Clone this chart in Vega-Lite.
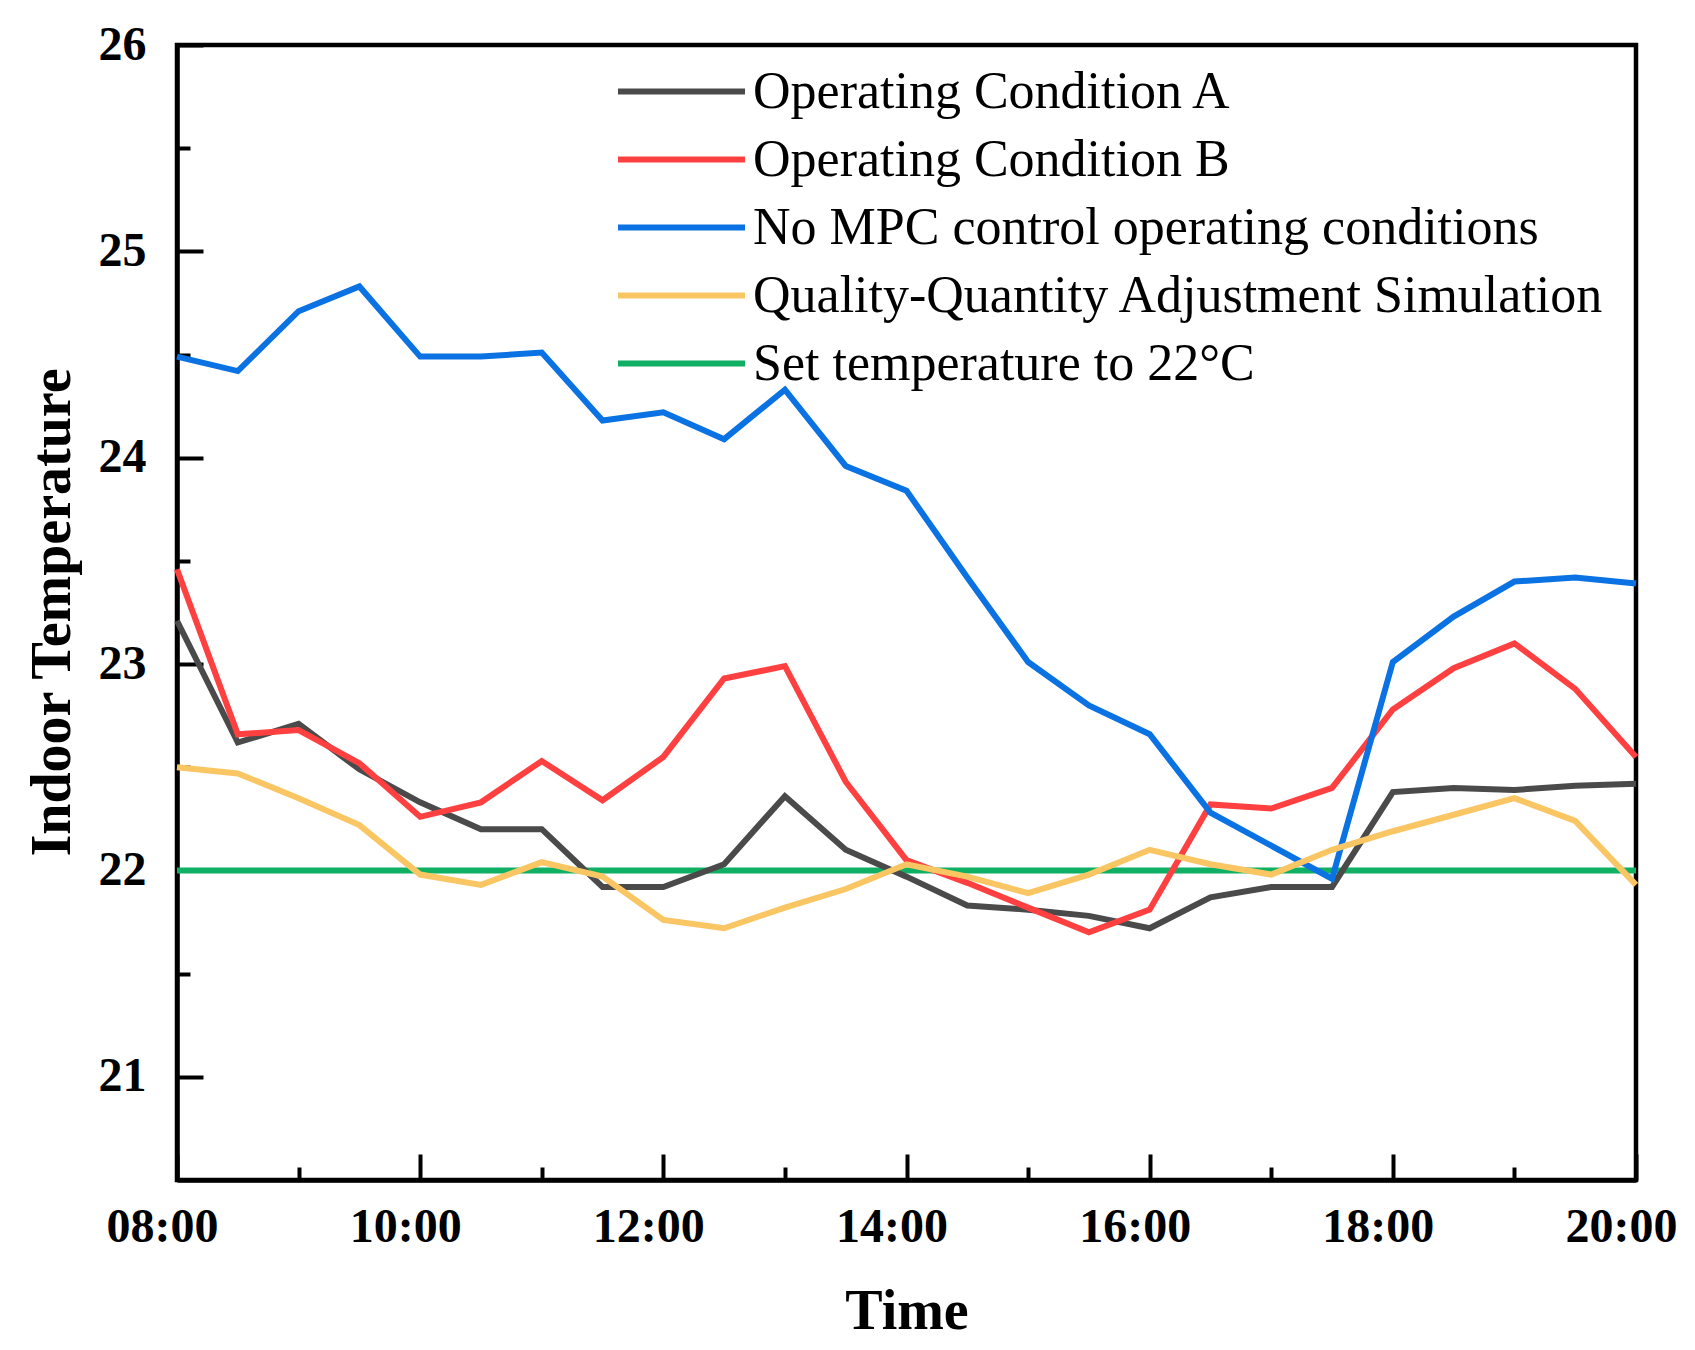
{
  "$schema": "https://vega.github.io/schema/vega-lite/v6.json",
  "width": 1459,
  "height": 1135,
  "autosize": "none",
  "padding": {"left": 177, "top": 45, "right": 59, "bottom": 170},
  "background": "white",
  "data": {
    "values": [
      {"t": 8, "A": 23.21, "B": 23.46, "N": 24.49, "Q": 22.50, "S": 22},
      {"t": 8.5, "A": 22.62, "B": 22.66, "N": 24.42, "Q": 22.47, "S": 22},
      {"t": 9, "A": 22.71, "B": 22.68, "N": 24.71, "Q": 22.35, "S": 22},
      {"t": 9.5, "A": 22.49, "B": 22.52, "N": 24.83, "Q": 22.22, "S": 22},
      {"t": 10, "A": 22.33, "B": 22.26, "N": 24.49, "Q": 21.98, "S": 22},
      {"t": 10.5, "A": 22.20, "B": 22.33, "N": 24.49, "Q": 21.93, "S": 22},
      {"t": 11, "A": 22.20, "B": 22.53, "N": 24.51, "Q": 22.04, "S": 22},
      {"t": 11.5, "A": 21.92, "B": 22.34, "N": 24.18, "Q": 21.97, "S": 22},
      {"t": 12, "A": 21.92, "B": 22.55, "N": 24.22, "Q": 21.76, "S": 22},
      {"t": 12.5, "A": 22.03, "B": 22.93, "N": 24.09, "Q": 21.72, "S": 22},
      {"t": 13, "A": 22.36, "B": 22.99, "N": 24.33, "Q": 21.82, "S": 22},
      {"t": 13.5, "A": 22.10, "B": 22.43, "N": 23.96, "Q": 21.91, "S": 22},
      {"t": 14, "A": 21.97, "B": 22.05, "N": 23.84, "Q": 22.03, "S": 22},
      {"t": 14.5, "A": 21.83, "B": 21.94, "N": 23.42, "Q": 21.97, "S": 22},
      {"t": 15, "A": 21.81, "B": 21.82, "N": 23.01, "Q": 21.89, "S": 22},
      {"t": 15.5, "A": 21.78, "B": 21.70, "N": 22.80, "Q": 21.98, "S": 22},
      {"t": 16, "A": 21.72, "B": 21.81, "N": 22.66, "Q": 22.10, "S": 22},
      {"t": 16.5, "A": 21.87, "B": 22.32, "N": 22.28, "Q": 22.03, "S": 22},
      {"t": 17, "A": 21.92, "B": 22.30, "N": 22.12, "Q": 21.98, "S": 22},
      {"t": 17.5, "A": 21.92, "B": 22.40, "N": 21.96, "Q": 22.10, "S": 22},
      {"t": 18, "A": 22.38, "B": 22.78, "N": 23.01, "Q": 22.19, "S": 22},
      {"t": 18.5, "A": 22.40, "B": 22.98, "N": 23.23, "Q": 22.27, "S": 22},
      {"t": 19, "A": 22.39, "B": 23.10, "N": 23.40, "Q": 22.35, "S": 22},
      {"t": 19.5, "A": 22.41, "B": 22.88, "N": 23.42, "Q": 22.24, "S": 22},
      {"t": 20, "A": 22.42, "B": 22.55, "N": 23.39, "Q": 21.93, "S": 22}
    ]
  },
  "transform": [
    {"fold": ["S", "A", "B", "N", "Q"], "as": ["series", "temp"]}
  ],
  "layer": [
    {
      "mark": {"type": "line", "strokeWidth": 6, "strokeJoin": "miter"},
      "encoding": {
        "x": {
          "field": "t",
          "type": "quantitative",
          "scale": {"domain": [8, 20], "nice": false, "zero": false},
          "axis": {
            "orient": "bottom",
            "values": [8, 10, 12, 14, 16, 18, 20],
            "labelExpr": "(datum.value < 10 ? '0' : '') + datum.value + ':00'",
            "tickSize": -26,
            "labelPadding": 87,
            "labelOffset": -15,
            "labelBaseline": "alphabetic",
            "labelFlush": false,
            "labelOverlap": false,
            "labelBound": false,
            "title": "Time",
            "titleX": 729.5,
            "titleY": 148,
            "titleBaseline": "alphabetic",
            "titleFontSize": 56
          }
        },
        "y": {
          "field": "temp",
          "type": "quantitative",
          "scale": {"domain": [20.5, 26], "nice": false, "zero": false},
          "axis": {
            "orient": "left",
            "values": [21, 22, 23, 24, 25, 26],
            "tickSize": -26,
            "labelPadding": 57,
            "labelOverlap": false,
            "labelBound": false,
            "title": "Indoor Temperature",
            "titleX": -108,
            "titleY": 567,
            "titleBaseline": "alphabetic",
            "titleFontSize": 56
          }
        },
        "color": {
          "field": "series",
          "type": "nominal",
          "scale": {
            "domain": ["A", "B", "N", "Q", "S"],
            "range": ["#4a4a4a", "#ff4040", "#0a72e2", "#f9c663", "#0fb064"]
          },
          "legend": {
            "orient": "none",
            "legendX": 476,
            "legendY": 18,
            "title": null,
            "symbolType": "M-2.5,0H2.5",
            "symbolSize": 2581,
            "symbolStrokeWidth": 6,
            "symbolFillColor": "transparent",
            "rowPadding": 13,
            "labelOffset": 43,
            "labelFont": "Liberation Serif",
            "labelFontSize": 52,
            "labelColor": "black",
            "labelLimit": 2000,
            "labelExpr": "datum.label == 'A' ? 'Operating Condition A' : datum.label == 'B' ? 'Operating Condition B' : datum.label == 'N' ? 'No MPC control operating conditions' : datum.label == 'Q' ? 'Quality-Quantity Adjustment Simulation' : 'Set temperature to 22°C'"
          }
        }
      }
    },
    {
      "mark": {"type": "line", "opacity": 0},
      "encoding": {
        "x": {
          "field": "t",
          "type": "quantitative",
          "axis": {
            "orient": "bottom",
            "values": [9, 11, 13, 15, 17, 19],
            "tickSize": -13,
            "labels": false,
            "domain": false,
            "title": null
          }
        },
        "y": {
          "field": "temp",
          "type": "quantitative",
          "axis": {
            "orient": "left",
            "values": [21.5, 22.5, 23.5, 24.5, 25.5],
            "tickSize": -13,
            "labels": false,
            "domain": false,
            "title": null
          }
        }
      }
    }
  ],
  "resolve": {"axis": {"x": "independent", "y": "independent"}},
  "config": {
    "view": {"stroke": "black", "strokeWidth": 4.5},
    "axis": {
      "grid": false,
      "domainColor": "black",
      "domainWidth": 4.5,
      "tickColor": "black",
      "tickWidth": 4,
      "labelFont": "Liberation Serif",
      "labelFontWeight": "bold",
      "labelFontSize": 48,
      "labelColor": "black",
      "titleFont": "Liberation Serif",
      "titleFontWeight": "bold",
      "titleColor": "black"
    }
  }
}
